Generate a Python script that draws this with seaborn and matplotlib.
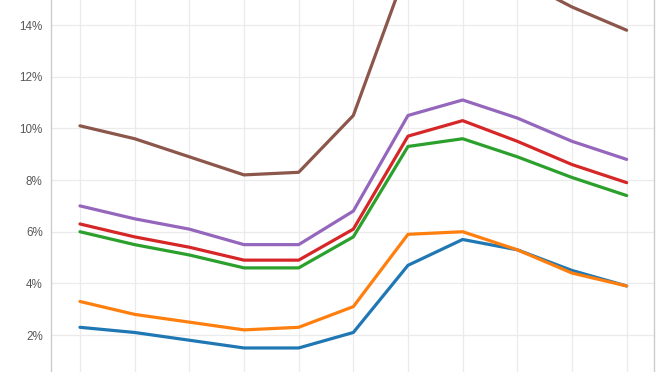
import numpy as np
import pandas as pd
import matplotlib
matplotlib.use("Agg")
import matplotlib.pyplot as plt
import seaborn as sns
from matplotlib.ticker import FuncFormatter

periods = list(range(11))
series_names = ["A", "B", "C", "D", "E", "F"]
blue = [2.3, 2.1, 1.8, 1.5, 1.5, 2.1, 4.7, 5.7, 5.3, 4.5, 3.9]
orange = [3.3, 2.8, 2.5, 2.2, 2.3, 3.1, 5.9, 6.0, 5.3, 4.4, 3.9]
green = [6.0, 5.5, 5.1, 4.6, 4.6, 5.8, 9.3, 9.6, 8.9, 8.1, 7.4]
red = [6.3, 5.8, 5.4, 4.9, 4.9, 6.1, 9.7, 10.3, 9.5, 8.6, 7.9]
purple = [7.0, 6.5, 6.1, 5.5, 5.5, 6.8, 10.5, 11.1, 10.4, 9.5, 8.8]
brown = [10.1, 9.6, 8.9, 8.2, 8.3, 10.5, 16.3, 16.6, 15.8, 14.7, 13.8]
yticks = [2, 4, 6, 8, 10, 12, 14]

colors = ["#1f77b4", "#ff7f0e", "#2ca02c", "#d62728", "#9467bd", "#8c564b"]

rows = []
for name, vals in zip(series_names, [blue, orange, green, red, purple, brown]):
    for p, v in zip(periods, vals):
        rows.append({"period": p, "value": v, "series": name})
df = pd.DataFrame(rows)

sns.set_style("white")
plt.rcParams["font.family"] = ["Liberation Sans", "DejaVu Sans"]

fig = plt.figure(figsize=(6.69, 3.72), dpi=100)
ax = fig.add_axes([51 / 669, 0.0, (654 - 51) / 669, 1.0])

sns.lineplot(data=df, x="period", y="value", hue="series", palette=colors,
             linewidth=2.3, legend=False, ax=ax, zorder=3)

ax.set_xlim(-0.53, 10.5)
ax.set_ylim(0.57, 14.97)
ax.set_xticks(periods)
ax.set_xticklabels([])
ax.set_yticks(yticks)
ax.yaxis.set_major_formatter(FuncFormatter(lambda v, _: f"{int(v)}%"))
ax.set_xlabel("")
ax.set_ylabel("")
ax.grid(True, color="#ebebeb", linewidth=0.9, zorder=0)
ax.set_axisbelow(True)
ax.tick_params(axis="y", length=4, width=0.9, color="#e0e0e0", pad=2,
               labelsize=8.4, labelcolor="#585858")
ax.tick_params(axis="x", length=0)
for s in ["top", "bottom"]:
    ax.spines[s].set_visible(False)
for s in ["left", "right"]:
    ax.spines[s].set_color("#cccccc")
    ax.spines[s].set_linewidth(1.0)

fig.savefig("out.png", dpi=100)
